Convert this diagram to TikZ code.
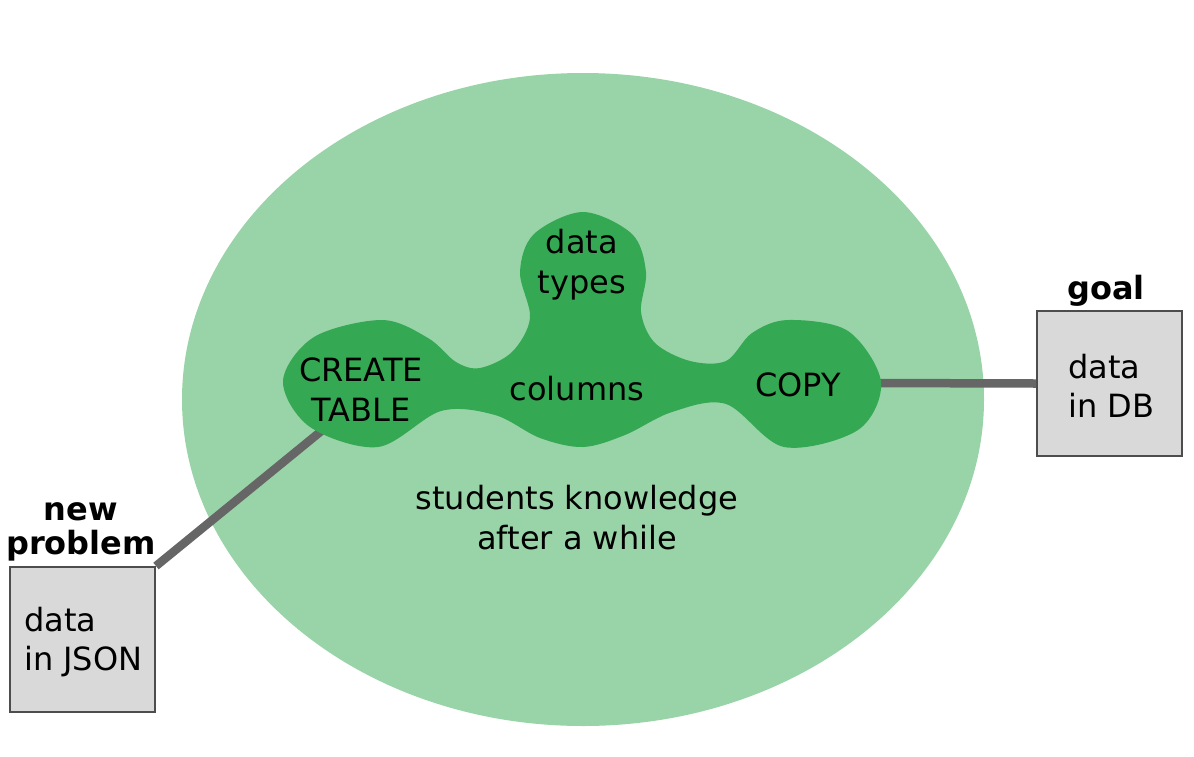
\documentclass[tikz,border=0pt]{standalone}
\usepackage{fontspec}
\setmainfont{DejaVu Sans}
\definecolor{lightg}{RGB}{153,212,168}
\definecolor{darkg}{RGB}{53,168,83}
\definecolor{boxfill}{RGB}{217,217,217}
\definecolor{boxline}{RGB}{77,77,77}
\definecolor{linkc}{RGB}{102,102,102}
\tikzset{
  txt/.style={font=\fontsize{32}{40}\selectfont, align=center, inner sep=0pt},
  head/.style={font=\fontsize{32}{34}\selectfont\bfseries, align=center, inner sep=0pt},
  databox/.style={draw=boxline, fill=boxfill, line width=2pt, minimum width=145pt, minimum height=145pt, inner sep=0pt},
  boxtxt/.style={font=\fontsize{32}{39}\selectfont, align=left, inner sep=0pt, anchor=west},
  link/.style={draw=linkc, line width=8.5pt}
}
\begin{document}
\begin{tikzpicture}[x=1pt,y=-1pt]
\useasboundingbox (0,0) rectangle (1194,756);
% knowledge ellipse
\fill[lightg] (583,399.5) ellipse [x radius=401, y radius=326.5];
% boxes
\node[databox] (json) at (82.5,639.5) {};
\node[databox] (db) at (1109.5,383.5) {};
\coordinate (ct) at (325,428);
\coordinate (cp) at (870,383);
% connectors
\draw[link] (json.north east) -- (ct);
\draw[link] (cp) -- (db.west);
% blob
\fill[darkg] plot[smooth cycle, tension=0.55] coordinates {
 (583,212) (632,234) (646,272) (641,312) (655,343) (690,361) (726,361)
 (752,333) (788,320) (848,331) (881,382) (858,430) (784,447) (726,404)
 (672,412) (625,435) (583,447) (540,438) (495,415) (441,411) (378,447)
 (310,427) (283,381) (314,337) (382,320) (428,338) (456,362) (480,368)
 (512,352) (530,318) (520,272) (534,234)
};
% labels
\node[txt] (dt) at (582,265) {data\\types};
\node[txt] (cr) at (361,389.5) {CREATE\\TABLE};
\node[txt] (co) at (577,389) {columns};
\node[txt] (cy) at (798,385) {COPY};
\node[txt] (sk) at (577,518) {students knowledge\\after a while};
\node[head] (np) at (81,532) {new\\problem};
\node[head] (gl) at (1106,291) {goal};
\node[boxtxt] (jt) at (24,642) {data\\in JSON};
\node[boxtxt] (dbt) at (1068,386) {data\\in DB};
\end{tikzpicture}
\end{document}
